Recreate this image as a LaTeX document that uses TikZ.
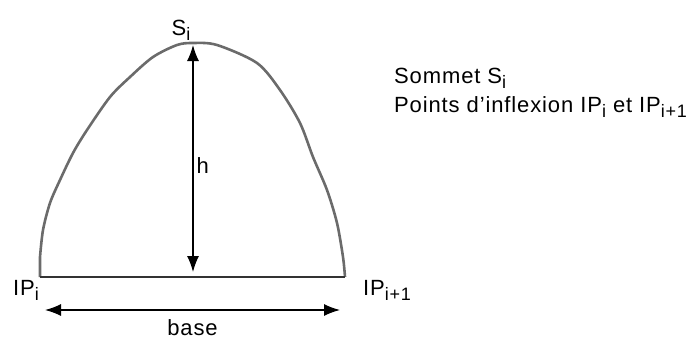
\documentclass[tikz,border=0pt]{standalone}
\usepackage{fontspec}
\setmainfont[LetterSpace=4]{Liberation Sans}
\usetikzlibrary{arrows.meta, positioning}

\newcommand{\idx}[1]{\raisebox{-0.45ex}{\fontsize{18}{18}\selectfont #1}}

\begin{document}
\begin{tikzpicture}[
    x=1pt, y=-1pt,
    every node/.style={font=\fontsize{22}{29}\selectfont, inner sep=1pt},
    profile/.style={draw=black!58, line width=2.6pt, line join=round},
    baseline/.style={draw=black!80, line width=1.6pt},
    dim/.style={{Latex[length=16pt, width=12pt]}-{Latex[length=16pt, width=12pt]},
        line width=1.3pt},
]
\useasboundingbox (0,0) rectangle (698,341);

% key points of the profile
\coordinate (top) at (193,43);
\coordinate (bl) at (40,277);
\coordinate (br) at (345,277);
\coordinate (htop) at (193,45);
\coordinate (hbot) at (193,272);
\coordinate (bleft) at (45,310);
\coordinate (bright) at (340,310);

\draw[profile] (bl) -- (40,257) plot[smooth, tension=0.5] coordinates {
    (40,257) (43,230) (50,203) (60,180) (73,153) (87,130) (110,97) (130,77)
    (153,57) (177,45) (top) (217,45) (257,63) (280,90) (300,123) (313,157)
    (327,190) (337,223) (343,257) (br)};
\draw[baseline] (bl) -- (br);

\draw[dim] (htop) -- node[right=2pt, pos=0.53] (h) {h} (hbot);
\draw[dim] (bleft) -- node[below=8pt] (base) {base} (bright);

\node[above=1pt of top, xshift=-12pt] (si) {S\idx{i}};
\node[anchor=south east] (ipi) at (40,302) {IP\idx{i}};
\node[anchor=south west] (ipn) at (362,302) {IP\idx{i+1}};

% legend
\node[anchor=base west] (sommet) at (393,83) {Sommet S\idx{i}};
\node[anchor=base west] (points) at (393,112)
    {Points d'inflexion IP\idx{i} et IP\idx{i+1}};

\end{tikzpicture}
\end{document}
